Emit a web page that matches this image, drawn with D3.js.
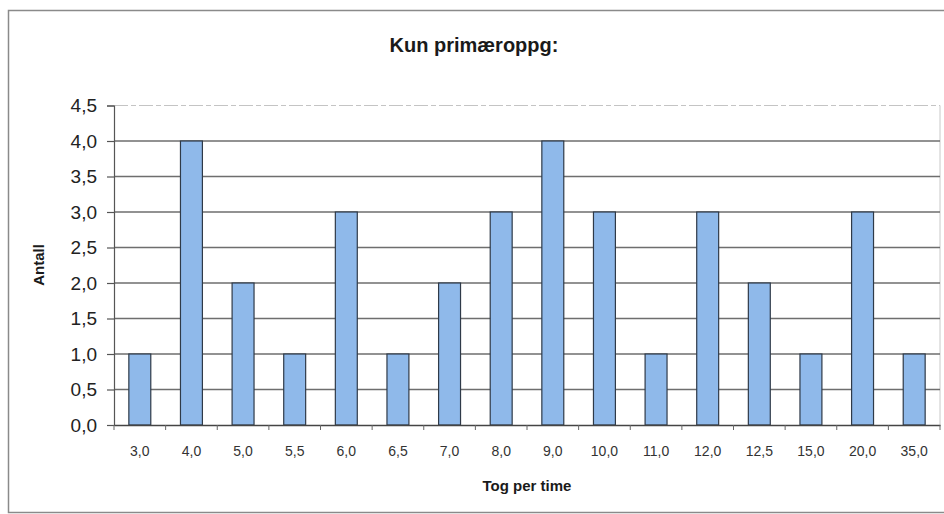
<!DOCTYPE html>
<html>
<head>
<meta charset="utf-8">
<script src="https://cdn.jsdelivr.net/npm/d3@7"></script>
<style>
  html, body { margin: 0; padding: 0; background: #fff; }
  svg { display: block; }
</style>
</head>
<body>
<svg id="chart" width="944" height="514"></svg>
<script>
// Tog per time (categories) and number of occurrences
const categories = ["3,0","4,0","5,0","5,5","6,0","6,5","7,0","8,0","9,0","10,0","11,0","12,0","12,5","15,0","20,0","35,0"];
const counts = [1,4,2,1,3,1,2,3,4,3,1,3,2,1,3,1];
const yTicks = [0,0.5,1,1.5,2,2.5,3,3.5,4,4.5];

const svg = d3.select("#chart");
const plot = { left: 114, right: 940, top: 105.5, bottom: 425 };
const fmt = v => d3.format(".1f")(v).replace(".", ",");
const font = "Liberation Sans, Arial, sans-serif";

// outer chart frame
svg.append("rect")
  .attr("x", 8.5).attr("y", 10.5)
  .attr("width", 950).attr("height", 502)
  .attr("fill", "#fff").attr("stroke", "#8a8a8a").attr("stroke-width", 1.5);

const x = d3.scaleBand().domain(categories).range([plot.left, plot.right]).paddingInner(0.575).paddingOuter(0.2875);
const y = d3.scaleLinear().domain([0, 4.5]).range([plot.bottom, plot.top]);

// right border of plot area
svg.append("line")
  .attr("x1", plot.right).attr("x2", plot.right)
  .attr("y1", plot.top).attr("y2", plot.bottom)
  .attr("stroke", "#c8c8c8").attr("stroke-width", 1);

// horizontal gridlines
svg.append("g").selectAll("line").data(yTicks.filter(t => t > 0)).join("line")
  .attr("x1", plot.left).attr("x2", plot.right)
  .attr("y1", d => y(d)).attr("y2", d => y(d))
  .attr("stroke", d => d === 4.5 ? "#c4c4c4" : "#6e6e6e")
  .attr("stroke-width", d => d === 4.5 ? 1 : 1.3)
  .attr("stroke-dasharray", d => d === 4.5 ? "14,3,5,3" : null);

// bars
svg.append("g").selectAll("rect").data(counts).join("rect")
  .attr("x", (d, i) => x(categories[i]))
  .attr("y", d => y(d))
  .attr("width", x.bandwidth())
  .attr("height", d => y(0) - y(d))
  .attr("fill", "#8fb9ea")
  .attr("stroke", "#2f3a48").attr("stroke-width", 1.2);

// y axis
const yAxis = d3.axisLeft(y).tickValues(yTicks).tickFormat(fmt).tickSize(7).tickPadding(10);
const gy = svg.append("g").attr("transform", `translate(${plot.left},0)`).call(yAxis);
gy.select(".domain").attr("stroke", "#555").attr("stroke-width", 1.2);
gy.selectAll(".tick line").attr("stroke", "#555").attr("stroke-width", 1.2);
gy.selectAll(".tick text")
  .attr("font-family", font)
  .attr("font-size", 19).attr("fill", "#222");

// x axis with tick marks between categories
const xAxis = d3.axisBottom(x).tickSize(0).tickPadding(21);
const gx = svg.append("g").attr("transform", `translate(0,${plot.bottom})`).call(xAxis);
gx.select(".domain").attr("stroke", "#444").attr("stroke-width", 1.4);
gx.selectAll(".tick text")
  .attr("font-family", font)
  .attr("font-size", 14).attr("fill", "#333");
const sepX = d3.range(categories.length + 1).map(i => plot.left + i * (plot.right - plot.left) / categories.length);
gx.append("g").selectAll("line").data(sepX).join("line")
  .attr("x1", d => d).attr("x2", d => d)
  .attr("y1", 0).attr("y2", 5)
  .attr("stroke", "#666").attr("stroke-width", 1);

// titles
svg.append("text")
  .attr("x", 474).attr("y", 52)
  .attr("text-anchor", "middle")
  .attr("font-family", font)
  .attr("font-weight", "bold").attr("font-size", 20).attr("fill", "#1a1a1a")
  .text("Kun primæroppg:");

svg.append("text")
  .attr("x", 527).attr("y", 491)
  .attr("text-anchor", "middle")
  .attr("font-family", font)
  .attr("font-weight", "bold").attr("font-size", 15).attr("fill", "#1a1a1a")
  .text("Tog per time");

svg.append("text")
  .attr("transform", "translate(44,265) rotate(-90)")
  .attr("text-anchor", "middle")
  .attr("font-family", font)
  .attr("font-weight", "bold").attr("font-size", 15).attr("fill", "#1a1a1a")
  .text("Antall");
</script>
</body>
</html>
